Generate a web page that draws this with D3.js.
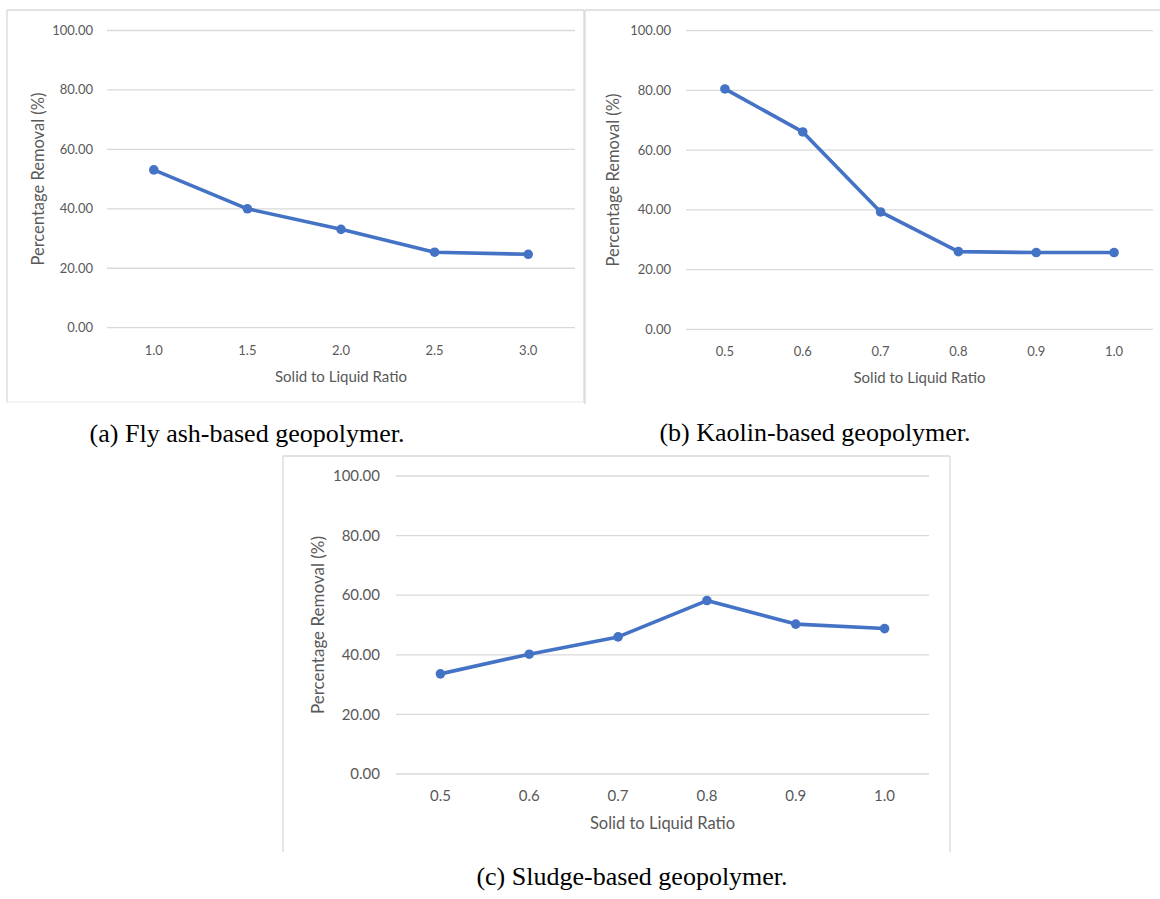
<!DOCTYPE html>
<html>
<head>
<meta charset="utf-8">
<script src="https://cdn.jsdelivr.net/npm/d3@7"></script>
<style>
  body { margin: 0; background: #fff; }
  svg { display: block; }
</style>
</head>
<body>
<svg id="chart" width="1160" height="899"></svg>
<script>
// data
const yTicks = [0, 20, 40, 60, 80, 100];

const flyAshRatios = ["1.0", "1.5", "2.0", "2.5", "3.0"];
const flyAshRemoval = [53.1, 40.0, 33.1, 25.4, 24.7];

const kaolinRatios = ["0.5", "0.6", "0.7", "0.8", "0.9", "1.0"];
const kaolinRemoval = [80.5, 66.1, 39.3, 26.0, 25.7, 25.7];

const sludgeRatios = ["0.5", "0.6", "0.7", "0.8", "0.9", "1.0"];
const sludgeRemoval = [33.6, 40.2, 46.0, 58.2, 50.3, 48.8];

const captions = [
  "(a) Fly ash-based geopolymer.",
  "(b) Kaolin-based geopolymer.",
  "(c) Sludge-based geopolymer."
];

const svg = d3.select("#chart");
const blue = "#4472c4";
const grid = "#d9d9d9";
const textCol = "#595959";
const sans = "Lato, 'Open Sans', sans-serif";

function drawPanel(cfg, cats, vals) {
  const g = svg.append("g");

  // frame (light grey, sides given separately)
  cfg.frame.forEach(l => {
    g.append("line")
      .attr("x1", l[0]).attr("y1", l[1]).attr("x2", l[2]).attr("y2", l[3])
      .attr("stroke", l[4] || "#d9d9d9").attr("stroke-width", 1.3);
  });

  const x = d3.scaleBand().domain(cats).range([cfg.left, cfg.right]);
  const y = d3.scaleLinear().domain([0, 100]).range([cfg.bottom, cfg.top]);

  // gridlines
  g.selectAll(".grid").data(yTicks).join("line")
    .attr("x1", cfg.left).attr("x2", cfg.right)
    .attr("y1", d => y(d)).attr("y2", d => y(d))
    .attr("stroke", grid).attr("stroke-width", 1.3);

  // y tick labels
  g.selectAll(".ytick").data(yTicks).join("text")
    .attr("x", cfg.yLabelX).attr("y", d => y(d))
    .attr("dy", "0.35em").attr("text-anchor", "end")
    .attr("font-family", sans)
    .attr("font-size", cfg.fs).attr("fill", textCol)
    .text(d => d3.format(".2f")(d));

  // x tick labels
  g.selectAll(".xtick").data(cats).join("text")
    .attr("x", d => x(d) + x.bandwidth() / 2).attr("y", cfg.xLabelY)
    .attr("dy", "0.35em").attr("text-anchor", "middle")
    .attr("font-family", sans)
    .attr("font-size", cfg.fs).attr("fill", textCol)
    .text(d => d);

  // axis titles
  g.append("text")
    .attr("x", (cfg.left + cfg.right) / 2).attr("y", cfg.xTitleY)
    .attr("dy", "0.35em").attr("text-anchor", "middle")
    .attr("font-family", sans)
    .attr("font-size", cfg.fsX).attr("fill", textCol)
    .text("Solid to Liquid Ratio");

  g.append("text")
    .attr("transform", `translate(${cfg.yTitleX},${(cfg.top + cfg.bottom) / 2}) rotate(-90)`)
    .attr("dy", "0.35em").attr("text-anchor", "middle")
    .attr("font-family", sans)
    .attr("font-size", cfg.fsY).attr("fill", textCol)
    .text("Percentage Removal (%)");

  // series
  const pts = cats.map((c, i) => [x(c) + x.bandwidth() / 2, y(vals[i])]);
  g.append("path")
    .attr("d", d3.line()(pts))
    .attr("fill", "none").attr("stroke", blue)
    .attr("stroke-width", 3.6).attr("stroke-linejoin", "round");

  g.selectAll(".pt").data(pts).join("circle")
    .attr("cx", d => d[0]).attr("cy", d => d[1]).attr("r", 4.8)
    .attr("fill", blue);

  // caption
  svg.append("text")
    .attr("x", cfg.capX).attr("y", cfg.capY)
    .attr("text-anchor", "middle")
    .attr("font-family", "'Liberation Serif', 'Times New Roman', serif")
    .attr("font-size", 26).attr("fill", "#000")
    .text(cfg.caption);
}

drawPanel({
  left: 107, right: 575, top: 30.5, bottom: 327.7,
  yLabelX: 93, xLabelY: 350, xTitleY: 377, yTitleX: 38, fs: 13, fsX: 15, fsY: 16.5,
  frame: [[7, 10, 584, 10], [7, 10, 7, 403], [584, 10, 584, 403], [7, 402, 584, 402, "#f0f0f0"]],
  caption: captions[0], capX: 247, capY: 442
}, flyAshRatios, flyAshRemoval);

drawPanel({
  left: 686, right: 1153, top: 30.7, bottom: 329.3,
  yLabelX: 671, xLabelY: 351, xTitleY: 378, yTitleX: 613, fs: 13, fsX: 15, fsY: 16.5,
  frame: [[585, 10, 1160, 10], [585, 10, 585, 404]],
  caption: captions[1], capX: 815, capY: 441
}, kaolinRatios, kaolinRemoval);

drawPanel({
  left: 396, right: 929, top: 476, bottom: 774,
  yLabelX: 380, xLabelY: 796, xTitleY: 823, yTitleX: 318, fs: 15, fsX: 16.5, fsY: 17,
  frame: [[283, 456, 950, 456], [283, 456, 283, 852], [950, 456, 950, 852]],
  caption: captions[2], capX: 632, capY: 885
}, sludgeRatios, sludgeRemoval);
</script>
</body>
</html>
